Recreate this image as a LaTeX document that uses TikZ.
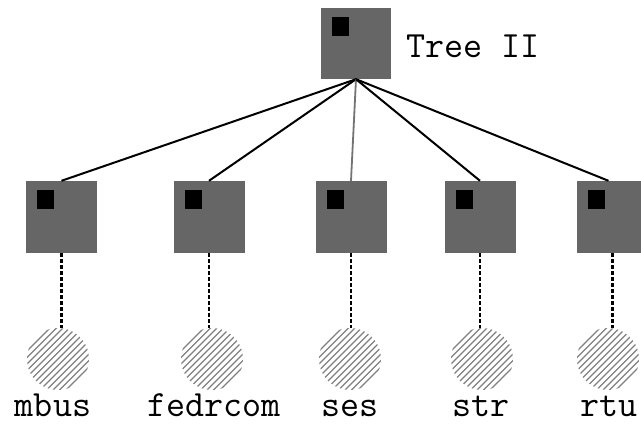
\documentclass[tikz,border=0pt]{standalone}
\usepackage{fontspec}
\definecolor{boxgray}{HTML}{666666}
\begin{document}
\begin{tikzpicture}[x=1pt,y=1pt,
  unit/.style={fill=boxgray, minimum width=71pt, minimum height=72pt, inner sep=0pt,
    path picture={\fill[black] ([xshift=11pt,yshift=-9pt]path picture bounding box.north west) rectangle ++(17pt,-19pt);}},
  hatch/.style={draw=black!50, line width=1.1pt},
  leaf/.style={circle, minimum size=62pt, inner sep=0pt,
    path picture={\foreach \k in {-14,...,14}
      \draw[hatch] ([xshift=\k*6.5pt]path picture bounding box.center) ++(-45pt,-45pt) -- ++(90pt,90pt);}},
  lbl/.style={font=\ttfamily\fontsize{37}{37}\selectfont, inner sep=0pt, anchor=base},
  edge/.style={draw=black, line width=2pt},
  midedge/.style={draw=black!55, line width=1.8pt},
  link/.style={draw=black, line width=2.8pt, dash pattern=on 3.5pt off 2.5pt}
]
\useasboundingbox (0,0) rectangle (641,425);

% root of the tree
\node[unit, minimum width=70pt, minimum height=71pt] (root) at (356,381.5) {};
\node[lbl, anchor=base west] (title) at (406,367) {Tree II};

% child units
\node[unit] (u1) at (61.5,208) {};
\node[unit] (u2) at (209,208) {};
\node[unit] (u3) at (351,208) {};
\node[unit] (u4) at (480,208) {};
\node[unit] (u5) at (612.5,208) {};

% hatched leaves
\node[leaf] (c1) at (58,66) {};
\node[leaf] (c2) at (212,66) {};
\node[leaf] (c3) at (350,66) {};
\node[leaf] (c4) at (482,66) {};
\node[leaf] (c5) at (608,66) {};

% leaf names
\node[lbl] (l1) at (53,8) {mbus};
\node[lbl] (l2) at (214,8) {fedrcom};
\node[lbl] (l3) at (350,8) {ses};
\node[lbl] (l4) at (481,8) {str};
\node[lbl] (l5) at (609,8) {rtu};

% tree edges
\draw[edge] (root.south) -- (u1.north);
\draw[edge] (root.south) -- (u2.north);
\draw[midedge] (root.south) -- (u3.north);
\draw[edge] (root.south) -- (u4.north);
\draw[edge] (root.south) -- ([xshift=-4pt]u5.north);

% unit-to-leaf links
\foreach \i in {1,...,5}
  \draw[link] (u\i.south) -- (u\i.south |- c\i.north);
\end{tikzpicture}
\end{document}
